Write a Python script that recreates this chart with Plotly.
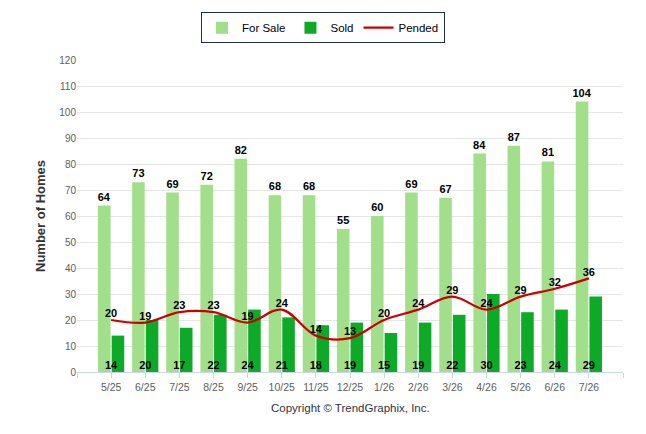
import plotly.graph_objects as go

months = ["5/25", "6/25", "7/25", "8/25", "9/25", "10/25", "11/25", "12/25",
          "1/26", "2/26", "3/26", "4/26", "5/26", "6/26", "7/26"]
for_sale = [64, 73, 69, 72, 82, 68, 68, 55, 60, 69, 67, 84, 87, 81, 104]
sold = [14, 20, 17, 22, 24, 21, 18, 19, 15, 19, 22, 30, 23, 24, 29]
pended = [20, 19, 23, 23, 19, 24, 14, 13, 20, 24, 29, 24, 29, 32, 36]
y_ticks = list(range(0, 121, 10))

xs = list(range(len(months)))
label_font = dict(family="Arial, Liberation Sans, sans-serif", size=11, color="#000000")
bold = lambda v: [f"<b>{x}</b>" for x in v]

fig = go.Figure()
fig.add_trace(go.Bar(
    x=xs, y=for_sale, name="For Sale", marker=dict(color="#a2df8a", line=dict(width=0)),
    text=bold(for_sale), textposition="outside", textfont=label_font, cliponaxis=False,
    constraintext="none",
))
fig.add_trace(go.Bar(
    x=xs, y=sold, name="Sold", marker=dict(color="#0caa27", line=dict(width=0)),
))
fig.add_trace(go.Scatter(
    x=xs, y=pended, name="Pended", mode="lines+text",
    line=dict(color="#cc0000", width=2.2, shape="spline", smoothing=1.0),
    text=bold(pended), textposition="top center", textfont=label_font, cliponaxis=False,
))
fig.add_trace(go.Scatter(
    x=xs, y=[0] * len(xs), mode="text", text=bold(sold), textposition="top center",
    textfont=label_font, showlegend=False, cliponaxis=False, hoverinfo="skip",
))

tick_font = dict(family="Liberation Sans Narrow, Arial Narrow, Liberation Sans, Arial, sans-serif",
                 size=10.5, color="#606060")

# page body has an 8px margin, so the figure is 630x418 and placed at (8,8)
fig.update_layout(
    width=630, height=418,
    margin=dict(l=69, r=15, t=52, b=54, autoexpand=False),
    paper_bgcolor="white", plot_bgcolor="white",
    barmode="group", bargap=0.2, bargroupgap=0.08,
    font=dict(family="Arial, Liberation Sans, sans-serif"),
    legend=dict(
        orientation="h", xref="container", yref="container",
        x=0.5, xanchor="center", y=0.99, yanchor="top",
        bordercolor="#1f2d4d", borderwidth=1, bgcolor="white",
        font=dict(family="Arial, Liberation Sans, sans-serif", size=11.5, color="#000000"),
        traceorder="normal",
    ),
    xaxis=dict(
        range=[-1, 15], tickvals=list(range(-1, 16)),
        ticktext=[""] + months + [""],
        showgrid=False, zeroline=False,
        showline=True, linecolor="#ccd6eb", linewidth=1,
        ticks="outside", ticklen=5, tickcolor="#ccd6eb",
        tickfont=tick_font,
    ),
    yaxis=dict(
        range=[0, 120], tickvals=y_ticks, showgrid=True, gridcolor="#e6e6e6",
        zeroline=False, showline=False, tickfont=dict(tick_font, size=10),
        title=dict(text="<b>Number of Homes</b>", standoff=10,
                   font=dict(family="Arial, Liberation Sans, sans-serif", size=13, color="#333333")),
    ),
    annotations=[dict(
        text="Copyright © TrendGraphix, Inc.", xref="paper", yref="paper",
        x=0.5, y=-0.115, xanchor="center", yanchor="middle", showarrow=False,
        font=dict(family="Arial, Liberation Sans, sans-serif", size=11.5, color="#333344"),
    )],
)

fig.write_html("out.html")
